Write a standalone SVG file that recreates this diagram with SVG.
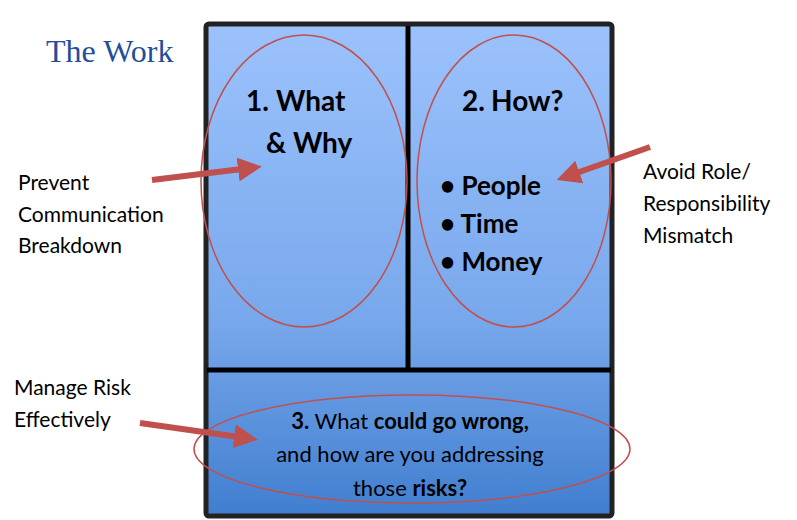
<svg xmlns="http://www.w3.org/2000/svg" width="797" height="520" viewBox="0 0 797 520">
<defs>
<linearGradient id="g" x1="0" y1="0" x2="0" y2="1"><stop offset="0" stop-color="#9cc2fc"/><stop offset="0.6" stop-color="#78a8ec"/><stop offset="1" stop-color="#407ecf"/></linearGradient>
<marker id="ah" markerWidth="4" markerHeight="4" refX="2" refY="2" orient="auto" markerUnits="strokeWidth"><path d="M0,0 L4,2 L0,4 Z" fill="#c0504d"/></marker>
<style>
.t{font-family:Lato,"Liberation Sans",sans-serif;fill:#000}
.b{font-weight:bold}
.ell{fill:none;stroke:#c0504d;stroke-width:1.5}
.arr{stroke:#c0504d;stroke-width:6;fill:none;marker-end:url(#ah)}
.div{stroke:#000;stroke-width:5}
</style>
</defs>
<rect width="797" height="520" fill="#fff"/>
<text x="46" y="62" font-family="'Liberation Serif',serif" font-size="32" fill="#1f4e9c">The Work</text>
<g id="box"><rect x="206" y="24" width="406" height="492" rx="3" fill="url(#g)" stroke="#222" stroke-width="5"/></g>
<g id="dividers"><line class="div" x1="408" y1="26" x2="408" y2="368"/><line class="div" x1="207" y1="370" x2="611" y2="370"/></g>
<g id="node1"><ellipse class="ell" cx="304" cy="181" rx="103" ry="146"/>
<text class="t b" font-size="28" x="246" y="111">1.</text><text class="t b" font-size="28" x="276" y="111">What</text>
<text class="t b" font-size="28" x="266" y="153">&amp; Why</text></g>
<g id="node2"><ellipse class="ell" cx="514" cy="181" rx="97" ry="146"/>
<text class="t b" font-size="28" x="462" y="111">2.</text><text class="t b" font-size="28" x="491" y="111">How?</text>
<text class="t b" font-size="26" x="440" y="195">•  People</text>
<text class="t b" font-size="26" x="440" y="233">•  Time</text>
<text class="t b" font-size="26" x="440" y="271">•  Money</text></g>
<g id="node3"><ellipse class="ell" cx="412" cy="449" rx="218" ry="54"/>
<text class="t" font-size="22" text-anchor="middle" x="410" y="429"><tspan class="b">3.</tspan>  What <tspan class="b">could go wrong,</tspan></text>
<text class="t" font-size="22" text-anchor="middle" x="410" y="462">and how are you addressing</text>
<text class="t" font-size="22" text-anchor="middle" x="410" y="496">those <tspan class="b">risks?</tspan></text></g>
<g id="labels">
<text class="t" font-size="21" x="18" y="190">Prevent</text>
<text class="t" font-size="21" x="18" y="222">Communication</text>
<text class="t" font-size="21" x="18" y="253">Breakdown</text>
<text class="t" font-size="21" x="643" y="179">Avoid Role/</text>
<text class="t" font-size="21" x="643" y="211">Responsibility</text>
<text class="t" font-size="21" x="643" y="243">Mismatch</text>
<text class="t" font-size="21" x="14" y="395">Manage Risk</text>
<text class="t" font-size="21" x="14" y="427">Effectively</text>
</g>
<g id="connectors">
<line class="arr" x1="152" y1="180" x2="250" y2="168"/>
<line class="arr" x1="650" y1="147" x2="568" y2="176"/>
<line class="arr" x1="140" y1="423" x2="246" y2="438"/>
</g>
</svg>
